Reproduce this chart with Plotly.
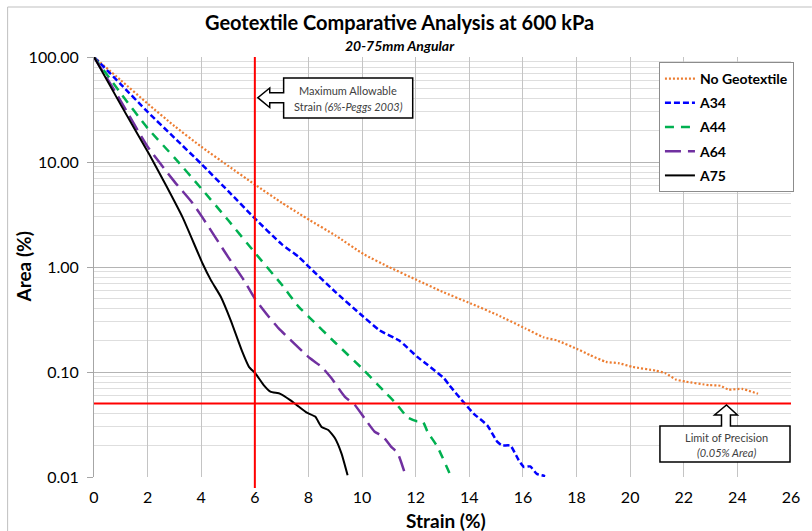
import plotly.graph_objects as go

# ---- data: strain (%) vs. area passing (%) ----
strain_no_geo = [0, 1, 2, 3, 4, 5, 6, 7, 7.63, 8.04, 9.0, 10.05, 11.0, 12.05, 13.0, 14.05,
                 15.04, 16.09, 16.77, 17.26, 18.06, 18.5, 19.1, 19.6, 20.07, 20.96, 21.33,
                 21.7, 22.07, 22.94, 23.37, 23.67, 24.17, 24.77]
area_no_geo = [100, 60, 36, 22, 14, 9.2, 6.1, 4.1, 3.25, 2.8, 2.0, 1.33, 1.0, 0.75, 0.58, 0.45,
               0.35, 0.26, 0.214, 0.20, 0.164, 0.145, 0.125, 0.121, 0.112, 0.103, 0.097,
               0.085, 0.081, 0.075, 0.074, 0.068, 0.069, 0.062]

strain_a34 = [0, 1, 2, 3, 4, 5, 6, 7, 7.63, 8.04, 9.0, 10.05, 10.65, 11.4, 12.05, 12.44, 13.06,
              13.25, 13.83, 14.17, 14.67, 15.04, 15.22, 15.53, 15.84, 16.03, 16.27, 16.52, 16.83]
area_a34 = [100, 55, 30, 17, 9.6, 5.3, 2.9, 1.65, 1.25, 0.99, 0.58, 0.336, 0.25, 0.198, 0.14,
            0.117, 0.087, 0.075, 0.050, 0.040, 0.031, 0.0217, 0.020, 0.0199, 0.0145, 0.0125,
            0.0126, 0.0107, 0.0102]

strain_a44 = [0, 1, 2, 3, 4, 5, 6, 7, 7.63, 8.04, 9.0, 10.07, 10.6, 10.84, 11.27, 11.7, 12.05,
              12.26, 12.44, 12.81, 13.31]
area_a44 = [100, 45, 21, 11, 5.6, 2.8, 1.37, 0.68, 0.42, 0.33, 0.19, 0.104, 0.075, 0.065, 0.050,
            0.037, 0.034, 0.034, 0.027, 0.0194, 0.0102]

strain_a64 = [0, 1, 2, 3, 3.68, 4.05, 5, 5.59, 6.0, 6.52, 6.89, 7.26, 8.06, 8.49, 8.86, 9.36,
              9.73, 10.1, 10.47, 10.78, 11.08, 11.33, 11.64]
area_a64 = [100, 38, 14, 6.5, 4.05, 2.95, 1.25, 0.75, 0.50, 0.336, 0.26, 0.21, 0.135, 0.112,
            0.087, 0.058, 0.0485, 0.036, 0.027, 0.0243, 0.0195, 0.0168, 0.0100]

strain_a75 = [0, 1, 2.07, 2.7, 3.31, 4.05, 4.36, 4.73, 5.1, 5.53, 5.78, 6.02, 6.33, 6.58, 6.95,
              7.32, 7.63, 7.94, 8.25, 8.49, 8.74, 8.99, 9.23, 9.46]
area_a75 = [100, 35, 11.7, 5.9, 2.95, 1.08, 0.75, 0.52, 0.31, 0.156, 0.112, 0.097, 0.075, 0.065,
            0.062, 0.054, 0.047, 0.041, 0.0376, 0.030, 0.028, 0.0234, 0.0168, 0.0104]

series_names = ["No Geotextile", "A34", "A44", "A64", "A75"]

x_ticks = list(range(0, 27, 2))
y_ticks = [0.01, 0.1, 1, 10, 100]
y_tick_text = ["0.01", "0.10", "1.00", "10.00", "100.00"]

MAX_STRAIN = 6          # maximum allowable strain (%)
PRECISION_LIMIT = 0.05  # limit of precision (% area)

# ---- page geometry (pixels) ----
W, H = 812, 531
L, T, R, B = 94, 57, 796, 477
FONT = "Lato"


def pp(x, y):
    """Pixel position -> paper coordinates."""
    return (x - L) / (R - L), (B - y) / (B - T)


def path(points):
    parts = []
    for i, (x, y) in enumerate(points):
        px, py = pp(x, y)
        parts.append(("M" if i == 0 else "L") + f"{px:.5f},{py:.5f}")
    return " ".join(parts) + " Z"


styles = [
    dict(color="#ED7D31", width=2.2, dash="2px,2px"),
    dict(color="#0000FF", width=2.5, dash="6px,3px"),
    dict(color="#00B050", width=2.5, dash="9px,7px"),
    dict(color="#7030A0", width=2.5, dash="16px,7px"),
    dict(color="#000000", width=2, dash="solid"),
]
series = [(strain_no_geo, area_no_geo), (strain_a34, area_a34), (strain_a44, area_a44),
          (strain_a64, area_a64), (strain_a75, area_a75)]

fig = go.Figure()
for name, (xs, ys), st in zip(series_names, series, styles):
    fig.add_trace(go.Scatter(
        x=xs, y=ys, name=name, mode="lines", legendgroup=name,
        line=dict(color=st["color"], width=st["width"], dash=st["dash"],
                  shape="spline", smoothing=0.5),
    ))

shapes = []
# outer chart frame (top and left edges visible)
x0f, y0f = pp(7, 7)
x1f, y1f = pp(W + 5, H + 5)
shapes.append(dict(type="line", xref="paper", yref="paper", x0=x0f, x1=x1f, y0=y0f, y1=y0f,
                   line=dict(color="#bfbfbf", width=1)))
shapes.append(dict(type="line", xref="paper", yref="paper", x0=x0f, x1=x0f, y0=y0f, y1=y1f,
                   line=dict(color="#bfbfbf", width=1)))

# reference lines
shapes.append(dict(type="line", xref="x", yref="paper", x0=MAX_STRAIN, x1=MAX_STRAIN,
                   y0=pp(0, 488)[1], y1=1, line=dict(color="#FF0000", width=2)))
shapes.append(dict(type="line", xref="x", yref="y", x0=0, x1=26,
                   y0=PRECISION_LIMIT, y1=PRECISION_LIMIT, line=dict(color="#FF0000", width=2)))

# left-arrow callout
callout_left = [(285, 78), (415, 78), (415, 118), (285, 118), (285, 102.7), (271, 102.7),
                (271, 107.5), (259, 97.7), (271, 88), (271, 92.7), (285, 92.7)]
shapes.append(dict(type="path", xref="paper", yref="paper", path=path(callout_left),
                   fillcolor="white", line=dict(color="#000000", width=1.5)))
# up-arrow callout
callout_up = [(664, 426), (726, 426), (726, 415), (719, 415), (731, 405), (742, 415),
              (735, 415), (735, 426), (795, 426), (795, 462), (664, 462)]
shapes.append(dict(type="path", xref="paper", yref="paper", path=path(callout_up),
                   fillcolor="white", line=dict(color="#000000", width=1.5)))


def ann(text, x, y, size, color="#000000", weight="normal", angle=0, style="normal"):
    px, py = pp(x, y)
    return dict(text=text, xref="paper", yref="paper", x=px, y=py, showarrow=False,
                xanchor="center", yanchor="middle", textangle=angle,
                font=dict(family=FONT, size=size, color=color, weight=weight, style=style))


annotations = [
    ann("Geotextile Comparative Analysis at 600 kPa", 402, 22, 20, weight="bold"),
    ann("20-75mm Angular", 402, 45, 14, weight="bold", style="italic"),
    ann("Strain (%)", 449, 520, 19, weight="bold"),
    ann("Area (%)", 22, 267, 19, weight="bold", angle=-90),
    ann("Maximum Allowable", 350, 90, 11, color="#404040"),
    ann("Strain <i>(6%-Peggs 2003)</i>", 350, 106, 11, color="#404040"),
    ann("Limit of Precision", 731, 437, 11, color="#404040"),
    ann("<i>(0.05% Area)</i>", 731, 452, 11, color="#404040"),
]

lx, ly = pp(663, 62)
fig.update_layout(
    width=W, height=H, autosize=False,
    margin=dict(l=L, r=W - R, t=T, b=H - B, pad=0),
    paper_bgcolor="white", plot_bgcolor="white",
    font=dict(family=FONT, color="#000000"),
    showlegend=True,
    legend=dict(x=lx, y=ly, xanchor="left", yanchor="top", bgcolor="white",
                bordercolor="#8c8c8c", borderwidth=1, tracegroupgap=3,
                font=dict(family=FONT, size=14, weight="bold")),
    shapes=shapes,
    annotations=annotations,
    xaxis=dict(range=[0, 26], tickvals=x_ticks, showgrid=True, gridcolor="#c4c4c4",
               gridwidth=1, zeroline=False, showline=False, ticks="",
               ticklabelstandoff=9,
               tickfont=dict(family=FONT, size=16)),
    yaxis=dict(type="log", range=[-2, 2], tickvals=y_ticks, ticktext=y_tick_text,
               showgrid=True, gridcolor="#b4b4b4", gridwidth=1, zeroline=False,
               showline=True, linecolor="#a6a6a6", linewidth=1,
               ticks="outside", ticklen=6, tickcolor="#a6a6a6",
               ticklabelstandoff=5,
               tickfont=dict(family=FONT, size=16),
               minor=dict(dtick="D1", showgrid=True, gridcolor="#dedede", gridwidth=1,
                          ticks="")),
)

fig.write_html("out.html")
